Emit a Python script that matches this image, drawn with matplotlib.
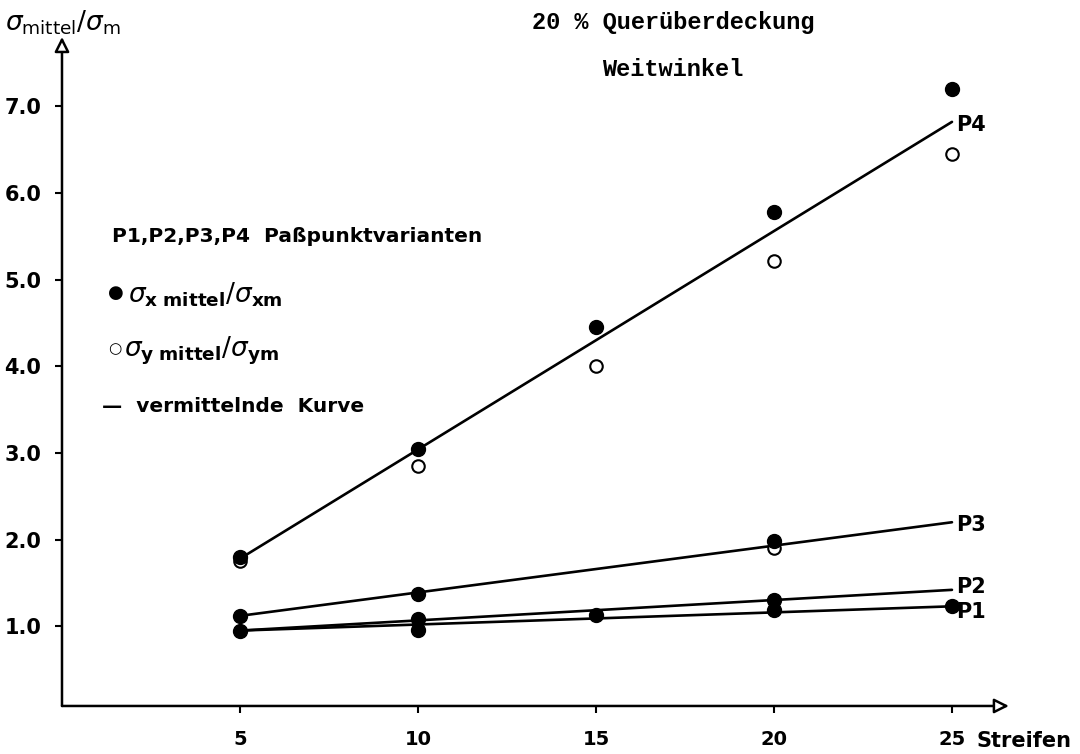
"""Mittlere Genauigkeit je Paßpunktvariante über der Streifenzahl (Weitwinkel)."""

import matplotlib
matplotlib.use("Agg")
import matplotlib.pyplot as plt

streifen = [5, 10, 15, 20, 25]

# P4: measured points
p4_x_mittel = [1.80, 3.05, 4.45, 5.78, 7.20]
p4_y_mittel = [1.75, 2.85, 4.00, 5.22, 6.45]

# P1-P3: visible filled points (open ones mostly hidden beneath)
low_x = [5, 10, 20, 5, 10, 10, 15, 20, 20, 25]
low_sx = [1.12, 1.37, 1.98, 0.95, 1.08, 0.96, 1.13, 1.30, 1.19, 1.23]
low_open_x = [20]
low_open_sy = [1.90]

# vermittelnde Kurven (start at 5 Streifen, end at 25 Streifen)
kurve_x = [5, 25]
kurven = {
    "P4": [1.78, 6.82],
    "P3": [1.12, 2.20],
    "P2": [0.95, 1.42],
    "P1": [0.95, 1.23],
}
label_y = {"P4": 6.78, "P3": 2.17, "P2": 1.45, "P1": 1.16}

y_ticks = [1.0, 2.0, 3.0, 4.0, 5.0, 6.0, 7.0]


def main() -> None:
    fig = plt.figure(figsize=(10.8, 7.54), dpi=100)
    ax = fig.add_axes([0.0574, 0.0637, 0.8768, 0.8873])
    ax.set_xlim(0, 26.6)
    ax.set_ylim(0.08, 7.8)
    for s in ax.spines.values():
        s.set_visible(False)

    # axes with open arrow heads
    arrow = dict(arrowstyle="-|>", fc="white", ec="black", lw=1.8,
                 mutation_scale=22, shrinkA=0, shrinkB=0)
    ax.annotate("", xy=(1, 0), xytext=(0, 0), xycoords="axes fraction",
                arrowprops=arrow, annotation_clip=False)
    ax.annotate("", xy=(0, 1), xytext=(0, 0), xycoords="axes fraction",
                arrowprops=arrow, annotation_clip=False)

    ax.set_xticks(streifen)
    ax.set_yticks(y_ticks)
    ax.set_yticklabels([f"{v:.1f}" for v in y_ticks])
    ax.tick_params(axis="x", length=5, width=1.5, pad=12, labelsize=14)
    ax.tick_params(axis="y", length=5, width=1.5, pad=10, labelsize=15)
    for lab in ax.get_xticklabels() + ax.get_yticklabels():
        lab.set_fontweight("bold")

    for name, ys in kurven.items():
        ax.plot(kurve_x, ys, color="black", lw=1.9, solid_capstyle="round")
        ax.text(25.12, label_y[name], name, fontsize=15, fontweight="bold",
                va="center", ha="left")

    ax.plot(streifen, p4_y_mittel, "o", ms=9, mfc="white", mec="black",
            mew=1.5, zorder=3)
    ax.plot(streifen, p4_x_mittel, "o", ms=10, color="black", zorder=4)
    ax.plot(low_open_x, low_open_sy, "o", ms=9, mfc="white", mec="black",
            mew=1.5, zorder=3)
    ax.plot(low_x, low_sx, "o", ms=10, color="black", zorder=4)

    # y axis title
    fig.text(0.005, 0.97, r"$\sigma_{\mathrm{mittel}}/\sigma_{\mathrm{m}}$",
             fontsize=19, va="center", ha="left")
    fig.text(1072 / 1080, 1 - 741 / 754, "Streifen", fontsize=15,
             fontweight="bold", va="center", ha="right")

    mono = dict(family="Liberation Mono", fontweight="bold", fontsize=17,
                ha="center", va="center")
    fig.text(673 / 1080, 1 - 22 / 754, "20 % Querüberdeckung", **mono)
    fig.text(673 / 1080, 1 - 70 / 754, "Weitwinkel", **mono)

    # legend, written as in the original
    leg = dict(fontsize=14.5, fontweight="bold", va="center", ha="left")
    fig.text(112 / 1080, 1 - 237 / 754, "P1,P2,P3,P4  Paßpunktvarianten", **leg)
    fig.text(108 / 1080, 1 - 293 / 754, "●", fontsize=13, va="center",
             ha="left")
    fig.text(128 / 1080, 1 - 295 / 754,
             r"$\sigma_{\mathbf{x\ mittel}}/\sigma_{\mathbf{xm}}$",
             fontsize=19, va="center", ha="left")
    fig.text(108 / 1080, 1 - 349 / 754, "○", fontsize=11, va="center",
             ha="left")
    fig.text(124 / 1080, 1 - 351 / 754,
             r"$\sigma_{\mathbf{y\ mittel}}/\sigma_{\mathbf{ym}}$",
             fontsize=19, va="center", ha="left")
    fig.text(102 / 1080, 1 - 406 / 754, "—  vermittelnde  Kurve", **leg)

    fig.savefig("out.png", dpi=100, facecolor="white")


if __name__ == "__main__":
    main()
